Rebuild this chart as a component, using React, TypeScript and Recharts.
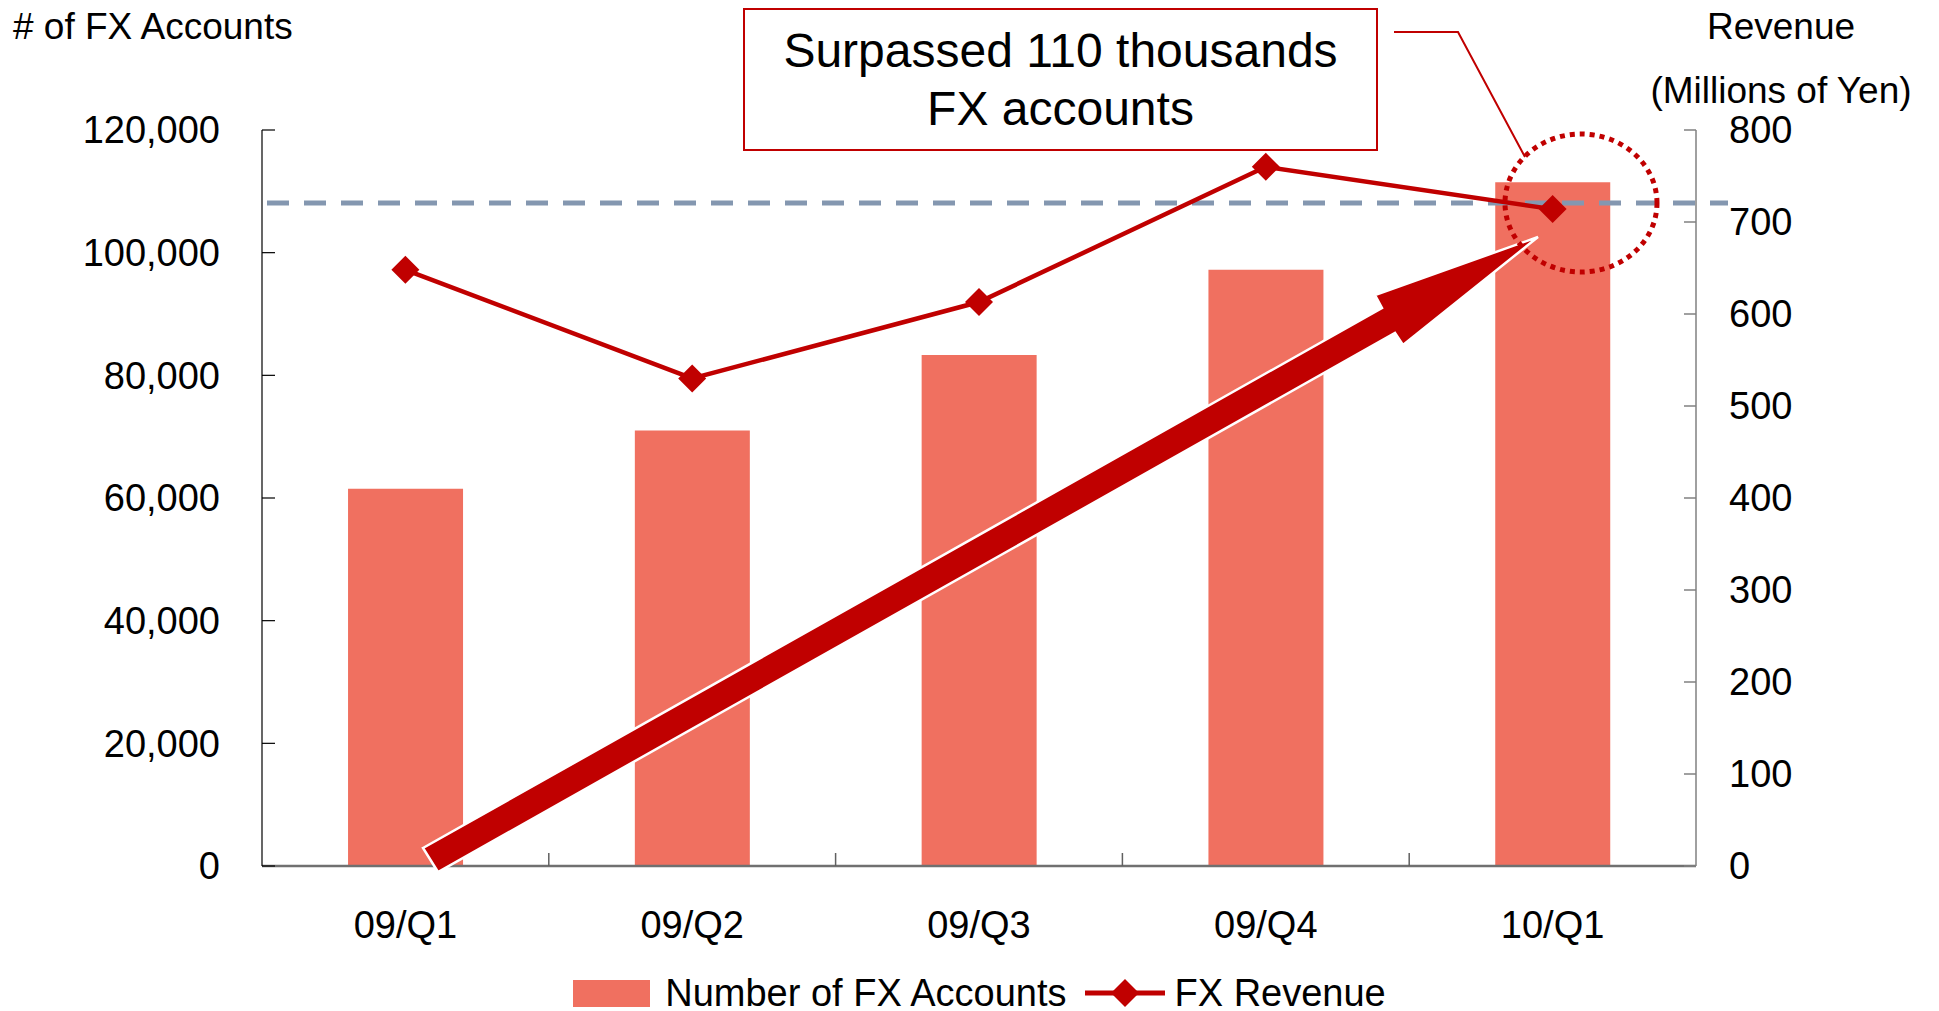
import React from 'react';
import { ComposedChart, Bar, Line, XAxis, YAxis, ReferenceLine, Legend } from 'recharts';

document.body.style.margin = '0';

const quarters = ['09/Q1', '09/Q2', '09/Q3', '09/Q4', '10/Q1'];
const fxAccounts = [61500, 71000, 83300, 97200, 111500];
const fxRevenue = [648, 530, 613, 760, 714];
const accountTicks = [0, 20000, 40000, 60000, 80000, 100000, 120000];
const revenueTicks = [0, 100, 200, 300, 400, 500, 600, 700, 800];
const thresholdAccounts = 108100;

const data = quarters.map((q, i) => ({ q, accounts: fxAccounts[i], revenue: fxRevenue[i] }));

const W = 1939;
const H = 1011;
const LEFT_W = 262;
const RIGHT_W = 243;
const BAND = (W - LEFT_W - RIGHT_W) / quarters.length;
const FONT = "'Liberation Sans', Arial, sans-serif";
const BAR_COLOR = '#F07060';
const LINE_COLOR = '#C00000';

const diamond = (cx: number, cy: number, r: number) =>
    `${cx},${cy - r} ${cx + r},${cy} ${cx},${cy + r} ${cx - r},${cy}`;

const RevenueDot = (props: any) => {
    const { cx, cy, index } = props;
    if (cx == null || cy == null) return <g key={index} />;
    return <polygon key={index} points={diamond(cx, cy, 14)} fill={LINE_COLOR} />;
};

// category label plus the small separator tick at the band edge
const QuarterTick = (props: any) => {
    const { x, y, payload, index } = props;
    return (
        <g>
            {index < quarters.length - 1 && (
                <line x1={x + BAND / 2} y1={y} x2={x + BAND / 2} y2={y - 13} stroke="#606060" strokeWidth={1.5} />
            )}
            <text x={x} y={y + 72} textAnchor="middle" fontSize={38} fontFamily={FONT} fill="#000">
                {payload.value}
            </text>
        </g>
    );
};

const LegendContent = () => (
    <div style={{ height: 40, boxSizing: 'border-box', paddingTop: 4, display: 'flex', alignItems: 'center', justifyContent: 'center', paddingLeft: 20, fontFamily: FONT, fontSize: 38, lineHeight: '36px', color: '#000' }}>
        <div style={{ width: 77, height: 27, background: BAR_COLOR, marginRight: 15 }} />
        <span style={{ marginRight: 18 }}>Number of FX Accounts</span>
        <svg width={80} height={30} style={{ marginRight: 10 }}>
            <line x1={0} y1={15} x2={80} y2={15} stroke={LINE_COLOR} strokeWidth={5} />
            <polygon points={diamond(40, 15, 14)} fill={LINE_COLOR} />
        </svg>
        <span>FX Revenue</span>
    </div>
);

export default function App() {
    return (
        <div style={{ position: 'relative', width: W, height: H, background: '#fff' }}>
            <ComposedChart
                width={W}
                height={H}
                data={data}
                margin={{ top: 130, right: 0, bottom: 0, left: 0 }}
                barCategoryGap="30%"
            >
                <XAxis
                    dataKey="q"
                    interval={0}
                    height={105}
                    tickLine={false}
                    tickSize={0}
                    tickMargin={0}
                    axisLine={{ stroke: '#707070', strokeWidth: 2.5 }}
                    tick={<QuarterTick />}
                />
                <YAxis
                    yAxisId="left"
                    orientation="left"
                    width={LEFT_W}
                    domain={[0, 120000]}
                    ticks={accountTicks}
                    interval={0}
                    tickFormatter={(v: number) => v.toLocaleString('en-US')}
                    tickSize={-13}
                    tickMargin={55}
                    axisLine={{ stroke: '#000', strokeWidth: 1.2 }}
                    tickLine={{ stroke: '#000', strokeWidth: 1.2 }}
                    tick={{ fontSize: 38, fontFamily: FONT, fill: '#000' }}
                />
                <YAxis
                    yAxisId="right"
                    orientation="right"
                    width={RIGHT_W}
                    domain={[0, 800]}
                    ticks={revenueTicks}
                    interval={0}
                    tickSize={-12}
                    tickMargin={45}
                    axisLine={{ stroke: '#808080', strokeWidth: 1.5 }}
                    tickLine={{ stroke: '#808080', strokeWidth: 1.5 }}
                    tick={{ fontSize: 38, fontFamily: FONT, fill: '#000', textAnchor: 'start' }}
                />
                <Legend verticalAlign="bottom" content={<LegendContent />} />
                <Bar yAxisId="left" dataKey="accounts" name="Number of FX Accounts" fill={BAR_COLOR} isAnimationActive={false} />
                <ReferenceLine
                    yAxisId="left"
                    y={thresholdAccounts}
                    shape={(p: any) => (
                        <line x1={p.x1 + 5} y1={p.y1} x2={p.x2 + 32} y2={p.y2} stroke="#8497B0" strokeWidth={5} strokeDasharray="22 15" />
                    )}
                />
                <Line
                    yAxisId="right"
                    dataKey="revenue"
                    name="FX Revenue"
                    stroke={LINE_COLOR}
                    strokeWidth={4.5}
                    dot={RevenueDot}
                    activeDot={false}
                    isAnimationActive={false}
                />
            </ComposedChart>

            {/* annotations */}
            <svg width={W} height={H} style={{ position: 'absolute', left: 0, top: 0, pointerEvents: 'none' }}>
                <text x={13} y={39} fontSize={37} fontFamily={FONT} fill="#000"># of FX Accounts</text>
                <text x={1781} y={39} fontSize={37} fontFamily={FONT} fill="#000" textAnchor="middle">Revenue</text>
                <text x={1781} y={103} fontSize={37} fontFamily={FONT} fill="#000" textAnchor="middle">(Millions of Yen)</text>
                <polygon
                    points="423,848 1382,308 1375,295 1538,237 1403,345 1395,333 438,872"
                    fill={LINE_COLOR}
                    stroke="#fff"
                    strokeWidth={2.5}
                    strokeLinejoin="miter"
                />
                <ellipse cx={1581} cy={203} rx={76} ry={69} fill="none" stroke={LINE_COLOR} strokeWidth={5} strokeDasharray="5 5" />
                <polyline points="1394,32 1458,32 1525,157" fill="none" stroke={LINE_COLOR} strokeWidth={2} />
            </svg>
            <div
                style={{
                    position: 'absolute', left: 743, top: 8, width: 635, height: 143, boxSizing: 'border-box',
                    border: '2px solid #C00000', background: '#fff', display: 'flex', alignItems: 'center',
                    justifyContent: 'center', textAlign: 'center', fontFamily: FONT, fontSize: 48, lineHeight: '58px', color: '#000',
                }}
            >
                <div>Surpassed 110 thousands<br />FX accounts</div>
            </div>
        </div>
    );
}
